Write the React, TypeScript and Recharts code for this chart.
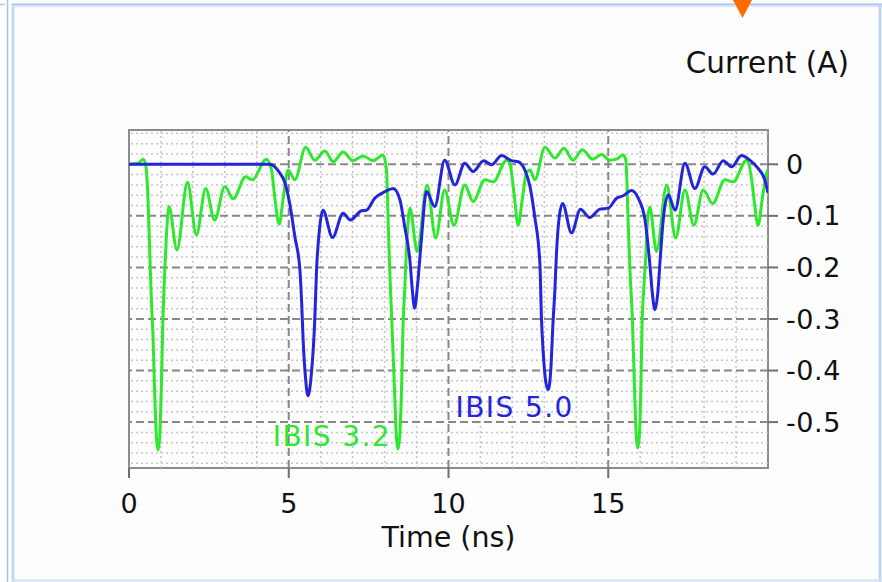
import React from 'react';
import { LineChart, Line, XAxis, YAxis, ReferenceLine, ReferenceArea, ReferenceDot, Label } from 'recharts';

// IBIS 3.2 (green) — time in ns, current in A
const ibis32Time = [
  0, 0.3, 0.44, 0.52, 0.6, 0.65, 0.7, 0.75, 0.8, 0.86, 0.91, 0.96, 1.01, 1.06, 1.12, 1.17, 1.25,
  1.5, 1.83, 2.11, 2.4, 2.68, 3.0, 3.26, 3.65, 3.86, 4.3, 4.46, 4.56, 4.7, 4.82, 4.93, 4.98, 5.19,
  5.53, 5.81, 6.13, 6.39, 6.7, 7.01, 7.33, 7.64, 7.95, 8.06, 8.11, 8.17, 8.23, 8.3, 8.37, 8.42,
  8.47, 8.53, 8.58, 8.63, 8.68, 8.79, 9.02, 9.33, 9.6, 9.88, 10.17, 10.51, 10.77, 11.14, 11.4,
  11.82, 11.92, 12.05, 12.18, 12.32, 12.44, 12.55, 12.7, 13.02, 13.33, 13.61, 13.9, 14.19, 14.51,
  14.79, 15.05, 15.26, 15.47, 15.55, 15.59, 15.62, 15.68, 15.76, 15.83, 15.88, 15.92, 15.97,
  16.02, 16.06, 16.11, 16.18, 16.23, 16.3, 16.51, 16.83, 17.11, 17.4, 17.68, 17.97, 18.27, 18.65,
  18.91, 19.33, 19.49, 19.59, 19.69, 19.83, 19.96, 20,
];
const ibis32Current = [
  0, 0.002, 0.01, 0.0, -0.076, -0.172, -0.263, -0.33, -0.437, -0.53, -0.554, -0.53, -0.437, -0.308, -0.205, -0.14, -0.082,
  -0.166, -0.035, -0.137, -0.047, -0.108, -0.043, -0.067, -0.024, -0.03, 0.01, -0.011, -0.063, -0.116, -0.069, -0.021, -0.011, -0.03,
  0.033, 0.008, 0.026, 0.005, 0.024, 0.007, 0.016, 0.007, 0.018, -0.011, -0.108, -0.22, -0.31, -0.42, -0.53, -0.552,
  -0.53, -0.437, -0.308, -0.243, -0.172, -0.085, -0.169, -0.04, -0.143, -0.05, -0.118, -0.04, -0.072, -0.03, -0.034,
  0.008, 0.002, -0.056, -0.118, -0.063, -0.017, -0.011, -0.03, 0.033, 0.012, 0.031, 0.008, 0.028, 0.01,
  0.019, 0.008, 0.01, 0.018, 0.008, -0.043, -0.108, -0.205, -0.308, -0.45, -0.53, -0.55, -0.53,
  -0.437, -0.308, -0.243, -0.172, -0.108, -0.083, -0.169, -0.04, -0.143, -0.05, -0.118, -0.05, -0.076, -0.03,
  -0.034, 0.008, -0.03, -0.082, -0.118, -0.063, -0.017, -0.01,
];

// IBIS 5.0 (blue)
const ibis50Time = [
  0, 4.4, 4.55, 4.72, 4.87, 5.03, 5.19, 5.35, 5.4, 5.45, 5.53, 5.6, 5.71, 5.81, 5.87, 5.97, 6.07,
  6.37, 6.7, 6.93, 7.28, 7.43, 7.69, 8.01, 8.27, 8.48, 8.63, 8.79, 8.87, 8.94, 9.03, 9.15, 9.31,
  9.57, 9.88, 10.2, 10.51, 10.77, 11.1, 11.35, 11.66, 11.97, 12.18, 12.39, 12.55, 12.7, 12.86,
  12.91, 12.96, 13.04, 13.12, 13.2, 13.27, 13.33, 13.38, 13.47, 13.57, 13.85, 14.13, 14.42, 14.74,
  15.0, 15.26, 15.47, 15.73, 15.94, 16.15, 16.3, 16.38, 16.46, 16.55, 16.63, 16.72, 16.88, 17.09,
  17.4, 17.71, 18.02, 18.28, 18.6, 18.86, 19.17, 19.43, 19.69, 19.9, 20,
];
const ibis50Current = [
  0, 0, -0.004, -0.017, -0.034, -0.076, -0.14, -0.205, -0.263, -0.34, -0.418, -0.449, -0.405, -0.308, -0.205, -0.121, -0.089,
  -0.142, -0.095, -0.108, -0.09, -0.089, -0.066, -0.053, -0.047, -0.069, -0.121, -0.185, -0.245, -0.279, -0.235, -0.147, -0.053,
  -0.082, 0.008, -0.04, 0.002, -0.014, 0.007, -0.001, 0.017, 0.007, 0.005, -0.011, -0.043, -0.102, -0.192,
  -0.3, -0.36, -0.42, -0.437, -0.4, -0.308, -0.243, -0.172, -0.1, -0.076, -0.133, -0.087, -0.103, -0.087,
  -0.085, -0.066, -0.061, -0.051, -0.066, -0.108, -0.192, -0.25, -0.282, -0.25, -0.18, -0.108, -0.059, -0.089,
  0.002, -0.047, -0.005, -0.019, 0.007, -0.005, 0.017, 0.008, -0.008, -0.03, -0.055,
];

const xTicks = [0, 5, 10, 15];
const yTicks = [0, -0.1, -0.2, -0.3, -0.4, -0.5];
const xMinorGrid = [1, 2, 3, 4, 6, 7, 8, 9, 11, 12, 13, 14, 16, 17, 18, 19];
const yMinorGrid = [
  0.06, 0.04, 0.02, -0.02, -0.04, -0.06, -0.08, -0.12, -0.14, -0.16, -0.18, -0.22, -0.24, -0.26, -0.28,
  -0.32, -0.34, -0.36, -0.38, -0.42, -0.44, -0.46, -0.48, -0.52, -0.54, -0.56, -0.58,
];
const xMajorGrid = [5, 10, 15];
const yMajorGrid = [0, -0.1, -0.2, -0.3, -0.4, -0.5];

const X_DOMAIN: [number, number] = [0, 20];
const Y_DOMAIN: [number, number] = [-0.589, 0.0665];

const GREEN = '#2ee82e';
const BLUE = '#2424dc';
const FONT = '"DejaVu Sans", Verdana, sans-serif';
const FRAME = '#a9c4ec';

const green = ibis32Time.map((t, i) => ({ t, v: ibis32Current[i] }));
const blue = ibis50Time.map((t, i) => ({ t, v: ibis50Current[i] }));

export default function App() {
  return (
    <div style={{ position: 'absolute', left: 0, top: 0, width: 882, height: 582, background: '#fdfdfd', overflow: 'hidden' }}>
      <svg width={882} height={582} style={{ position: 'absolute', left: 0, top: 0 }}>
        <line x1={0} y1={4.5} x2={5} y2={4.5} stroke={FRAME} strokeWidth={1.5} />
        <line x1={7.5} y1={0} x2={7.5} y2={582} stroke={FRAME} strokeWidth={1.5} />
        <line x1={13} y1={4} x2={13} y2={582} stroke="#c7d8f2" strokeWidth={3} />
        <line x1={12} y1={4.5} x2={882} y2={4.5} stroke={FRAME} strokeWidth={2} />
        <line x1={12} y1={6.5} x2={882} y2={6.5} stroke="#dbe6f7" strokeWidth={1.5} />
        <line x1={880} y1={4} x2={880} y2={582} stroke="#bcd2f2" strokeWidth={2.5} />
        <line x1={12} y1={580.5} x2={882} y2={580.5} stroke="#d3e0f4" strokeWidth={2} />
        <polygon points="733,0 752,0 742.5,18" fill="#ff6a00" />
      </svg>
      <div
        style={{
          position: 'absolute',
          left: 600,
          width: 849 - 600,
          top: 46,
          lineHeight: '34px',
          textAlign: 'right',
          fontFamily: FONT,
          fontSize: 29.5,
          color: '#111',
          whiteSpace: 'nowrap',
        }}
      >
        Current (A)
      </div>
      <div style={{ position: 'absolute', left: 0, top: 0 }}>
        <LineChart width={882} height={582} margin={{ top: 130, left: 129, right: 14, bottom: 24 }}>
          <XAxis
            dataKey="t"
            type="number"
            domain={X_DOMAIN}
            ticks={xTicks}
            interval={0}
            allowDataOverflow
            axisLine={false}
            tickLine={{ stroke: '#6e6e6e', strokeWidth: 2 }}
            tickSize={10}
            tickMargin={16}
            height={90}
            tick={{ fill: '#111', fontSize: 27, fontFamily: FONT }}
          >
            <Label value="Time (ns)" position="insideBottom" offset={11} fill="#111" fontSize={28.5} fontFamily={FONT} />
          </XAxis>
          <YAxis
            orientation="right"
            type="number"
            domain={Y_DOMAIN}
            ticks={yTicks}
            interval={0}
            allowDataOverflow
            axisLine={false}
            tickLine={{ stroke: '#6e6e6e', strokeWidth: 2 }}
            tickSize={10}
            tickMargin={8}
            width={100}
            tick={{ fill: '#111', fontSize: 27, fontFamily: FONT, letterSpacing: 0.6 }}
            tickFormatter={(v: number) => String(v)}
          />
          {xMinorGrid.map((x) => (
            <ReferenceLine key={'xm' + x} x={x} stroke="#c6c6c6" strokeWidth={1.5} strokeDasharray="2 3" />
          ))}
          {yMinorGrid.map((y) => (
            <ReferenceLine key={'ym' + y} y={y} stroke="#c6c6c6" strokeWidth={1.5} strokeDasharray="2 3" />
          ))}
          {xMajorGrid.map((x) => (
            <ReferenceLine key={'xM' + x} x={x} stroke="#888" strokeWidth={2} strokeDasharray="8 4" />
          ))}
          {yMajorGrid.map((y) => (
            <ReferenceLine key={'yM' + y} y={y} stroke="#888" strokeWidth={2} strokeDasharray="8 4" />
          ))}
          <Line data={green} dataKey="v" type="monotone" stroke={GREEN} strokeWidth={3} dot={false} isAnimationActive={false} />
          <Line data={blue} dataKey="v" type="monotone" stroke={BLUE} strokeWidth={3} dot={false} isAnimationActive={false} />
          <ReferenceArea x1={X_DOMAIN[0]} x2={X_DOMAIN[1]} y1={Y_DOMAIN[0]} y2={Y_DOMAIN[1]} fill="none" stroke="#8c8c8c" strokeWidth={2} />
          <ReferenceDot
            x={10.22}
            y={-0.47}
            r={0}
            fill="none"
            stroke="none"
            label={{ value: 'IBIS 5.0', position: 'right', offset: 0, fill: BLUE, fontSize: 28, fontFamily: FONT, letterSpacing: 1.4 }}
          />
          <ReferenceDot
            x={4.5}
            y={-0.527}
            r={0}
            fill="none"
            stroke="none"
            label={{ value: 'IBIS 3.2', position: 'right', offset: 0, fill: GREEN, fontSize: 28, fontFamily: FONT, letterSpacing: 1.4 }}
          />
        </LineChart>
      </div>
    </div>
  );
}
